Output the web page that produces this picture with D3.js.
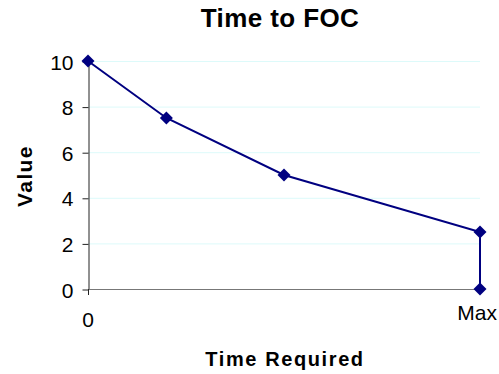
<!DOCTYPE html>
<html>
<head>
<meta charset="utf-8">
<script src="https://cdn.jsdelivr.net/npm/d3@7"></script>
<style>
  body { margin: 0; background: #fff; }
  text { font-family: "Liberation Sans", Arial, sans-serif; }
</style>
</head>
<body>
<div id="chart"></div>
<script>
// data
var xValues = [0, 0.2, 0.5, 1, 1];
var yValues = [10, 7.5, 5, 2.5, 0];
var yTicks = [0, 2, 4, 6, 8, 10];
var xTickLabels = [{v: 0, label: "0"}, {v: 1, label: "Max"}];

var points = xValues.map(function(x, i) { return {x: x, y: yValues[i]}; });

var W = 499, H = 374;
var svg = d3.select("#chart").append("svg")
    .attr("width", W).attr("height", H);

var x = d3.scaleLinear().domain([0, 1]).range([88, 480]);
var y = d3.scaleLinear().domain([0, 10]).range([289, 61]);

// gridlines
svg.append("g").selectAll("line")
  .data(yTicks.filter(function(d) { return d > 0; }))
  .enter().append("line")
    .attr("x1", x(0)).attr("x2", x(1))
    .attr("y1", function(d) { return y(d) + 0.5; })
    .attr("y2", function(d) { return y(d) + 0.5; })
    .attr("stroke", "#ddfafa").attr("stroke-width", 1);

// y axis
var yAxis = d3.axisLeft(y).tickValues(yTicks).tickSize(6).tickSizeOuter(0);
var gy = svg.append("g")
    .attr("transform", "translate(" + (x(0) + 0.5) + ",0.5)")
    .call(yAxis);
gy.attr("font-size", null).attr("font-family", null);
gy.select(".domain").attr("stroke", "#222");
gy.selectAll(".tick line").attr("stroke", "#222");
gy.selectAll(".tick text")
    .attr("font-size", 21).attr("fill", "#000")
    .attr("x", -15).attr("dy", "0.36em");

// x axis (baseline)
svg.append("line")
    .attr("x1", x(0)).attr("x2", x(1))
    .attr("y1", y(0) + 0.5).attr("y2", y(0) + 0.5)
    .attr("stroke", "#777").attr("stroke-width", 1);
svg.append("line")
    .attr("x1", x(0) + 0.5).attr("x2", x(0) + 0.5)
    .attr("y1", y(0)).attr("y2", y(0) + 6)
    .attr("stroke", "#222");

svg.append("g").selectAll("text")
  .data(xTickLabels)
  .enter().append("text")
    .attr("x", function(d) { return d.label === "Max" ? 497 : x(d.v); })
    .attr("y", function(d) { return d.label === "Max" ? 320 : 327; })
    .attr("text-anchor", function(d) { return d.label === "Max" ? "end" : "middle"; })
    .attr("font-size", 21)
    .attr("fill", "#000")
    .text(function(d) { return d.label; });

// line
svg.append("path")
    .datum(points)
    .attr("fill", "none")
    .attr("stroke", "#000080")
    .attr("stroke-width", 2)
    .attr("d", d3.line()
      .x(function(d) { return x(d.x); })
      .y(function(d) { return y(d.y); }));

// diamond markers
svg.append("g").selectAll("path")
  .data(points)
  .enter().append("path")
    .attr("transform", function(d) { return "translate(" + x(d.x) + "," + y(d.y) + ")"; })
    .attr("d", "M0,-6.5L6.5,0L0,6.5L-6.5,0Z")
    .attr("fill", "#000080");

// titles
svg.append("text")
    .attr("x", 280).attr("y", 27)
    .attr("text-anchor", "middle")
    .attr("font-size", 26).attr("font-weight", "bold")
    .attr("letter-spacing", 0.4)
    .text("Time to FOC");

svg.append("text")
    .attr("x", 285).attr("y", 366)
    .attr("text-anchor", "middle")
    .attr("font-size", 20).attr("font-weight", "bold")
    .attr("letter-spacing", 1.6)
    .text("Time Required");

svg.append("text")
    .attr("transform", "translate(32,176) rotate(-90)")
    .attr("text-anchor", "middle")
    .attr("font-size", 21).attr("font-weight", "bold")
    .attr("letter-spacing", 1.4)
    .text("Value");
</script>
</body>
</html>
